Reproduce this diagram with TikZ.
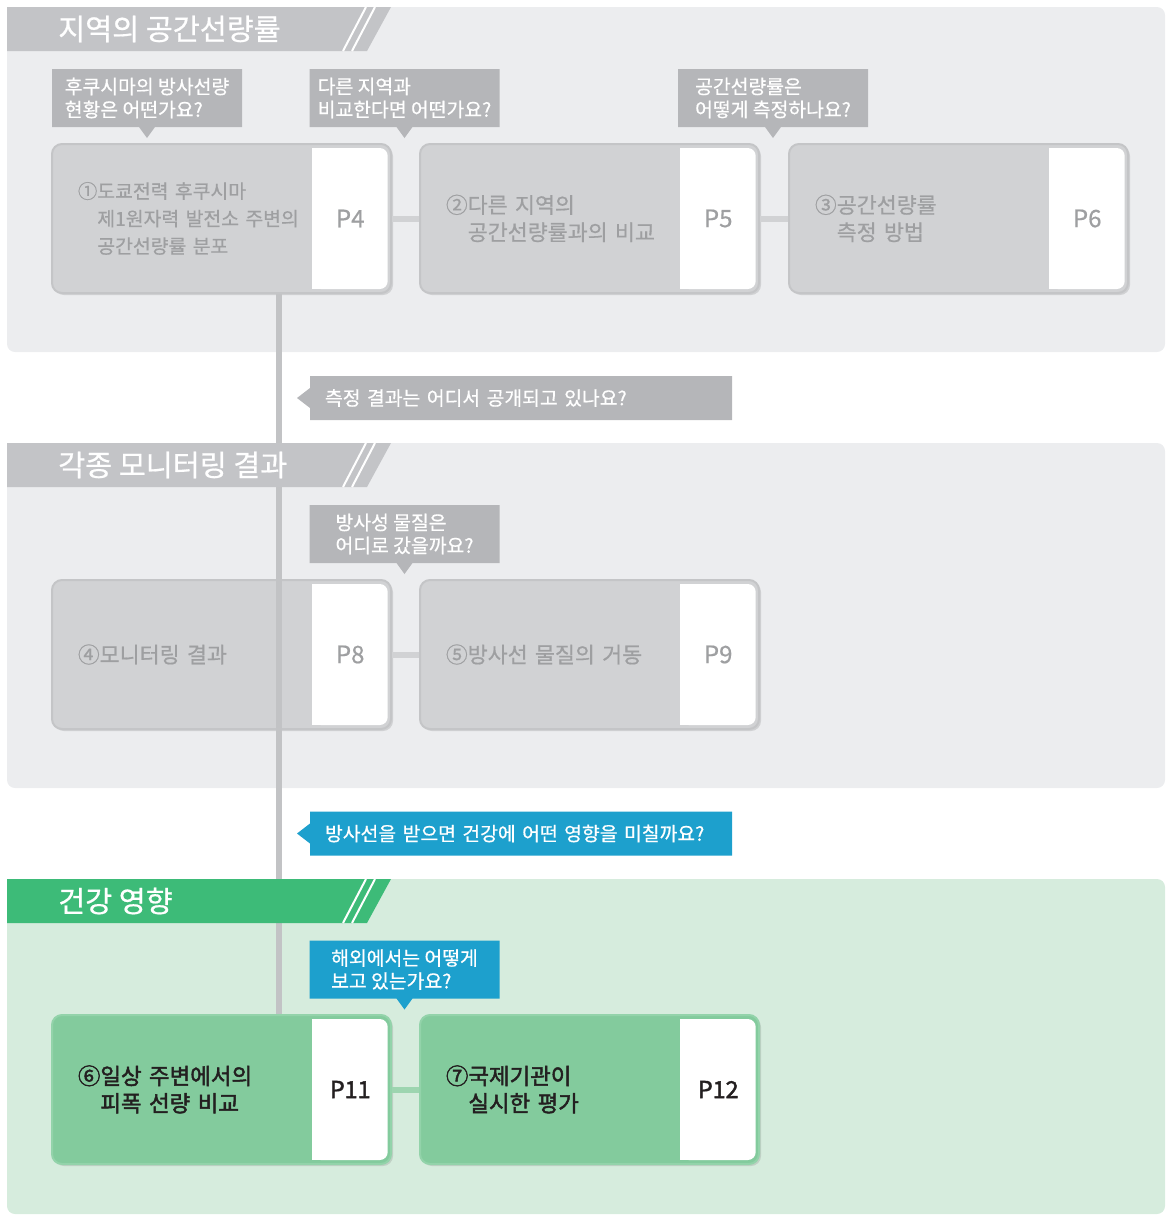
\documentclass[tikz,border=0pt]{standalone}
\usepackage{fontspec}
\setmainfont{Noto Sans CJK KR}
\newfontfamily\krmed{Noto Sans CJK KR}[FakeBold=0.6]
\newfontfamily\krsemi{Noto Sans CJK KR}[FakeBold=2]
\usepackage{xcolor}
\usetikzlibrary{calc, shapes.callouts, shadows}

\definecolor{panelgrey}{HTML}{ECEDEF}
\definecolor{bannergrey}{HTML}{C3C4C7}
\definecolor{askgrey}{HTML}{B5B6B9}
\definecolor{cardgrey}{HTML}{D1D2D4}
\definecolor{edgegrey}{HTML}{C4C5C7}
\definecolor{textgrey}{HTML}{9E9FA1}
\definecolor{spinegrey}{HTML}{C2C3C5}
\definecolor{panelgreen}{HTML}{D6ECDD}
\definecolor{bannergreen}{HTML}{3DBB78}
\definecolor{cardgreen}{HTML}{83CB9D}
\definecolor{edgegreen}{HTML}{93D3AA}
\definecolor{linkgreen}{HTML}{9DD5B0}
\definecolor{askblue}{HTML}{1DA0CD}
\definecolor{inkdark}{HTML}{231F20}

\tikzset{
  card/.style={rounded corners=7.5pt, fill=cardgrey, draw=edgegrey, line width=1.5pt,
    minimum width=254.25pt, minimum height=111.75pt, text width=215.25pt, inner xsep=19.5pt,
    align=left, text=textgrey, font=\krmed\fontsize{16.3}{20.5}\selectfont,
    drop shadow={shadow xshift=1.5pt, shadow yshift=-1.5pt, opacity=0.25}},
  smallcard/.style={card, font=\krmed\fontsize{14.5}{20.6}\selectfont},
  greencard/.style={card, fill=cardgreen, draw=edgegreen, text=inkdark, font=\krsemi\fontsize{16.8}{20.5}\selectfont},
  page/.style={rounded corners=6pt, fill=white, minimum width=56.25pt, minimum height=105.75pt,
    text=textgrey, font=\krmed\fontsize{18}{20}\selectfont},
  greenpage/.style={page, text=inkdark, font=\krsemi\fontsize{17.5}{20}\selectfont},
  link/.style={line width=4.5pt, draw=cardgrey},
  greenlink/.style={link, draw=linkgreen},
  spine/.style={line width=4.5pt, draw=spinegrey},
  slash/.style={draw=white, line width=1.5pt},
  headtext/.style={text=white, font=\krmed\fontsize{22}{26}\selectfont, inner sep=0pt},
  ask/.style={rectangle callout, fill=askgrey, text=white, align=left, inner sep=0pt,
    font=\krmed\fontsize{14.5}{17.25}\selectfont},
  askdown/.style={ask, minimum width=142.5pt, minimum height=43.5pt, callout pointer width=12pt,
    callout relative pointer={(0pt,-8.25pt)}},
  askleft/.style={ask, minimum width=316.5pt, minimum height=33pt, text width=294pt, callout pointer width=15pt,
    callout relative pointer={(-9.75pt,0pt)}}
}

\begin{document}
\begin{tikzpicture}[x=0.75pt, y=-0.75pt]
  \useasboundingbox (0,0) rectangle (1166,1215);

  % panels
  \fill[panelgrey, rounded corners=6pt] (7,7) rectangle (1165,352);
  \fill[panelgrey, rounded corners=6pt] (7,443) rectangle (1165,788);
  \fill[panelgreen, rounded corners=6pt] (7,879) rectangle (1165,1214);

  % cards
  \node[smallcard, anchor=north west] (c1) at (51,143) {①도쿄전력 후쿠시마\\\phantom{①}제1원자력 발전소 주변의\\\phantom{①}공간선량률 분포};
  \node[card, anchor=north west] (c2) at (419,143) {②다른 지역의\\\phantom{②}공간선량률과의 비교};
  \node[card, anchor=north west] (c3) at (788,143) {③공간선량률\\\phantom{③}측정 방법};
  \node[card, anchor=north west] (c4) at (51,579) {④모니터링 결과};
  \node[card, anchor=north west] (c5) at (419,579) {⑤방사선 물질의 거동};
  \node[greencard, anchor=north west] (c6) at (51,1014) {⑥일상 주변에서의\\\phantom{⑥}피폭 선량 비교};
  \node[greencard, anchor=north west] (c7) at (419,1014) {⑦국제기관이\\\phantom{⑦}실시한 평가};

  % spine and links
  \draw[spine] ($(c1.south west)+(228,0)$) -- ($(c6.north west)+(228,0)$);
  \draw[link] (c1) -- (c2);
  \draw[link] (c2) -- (c3);
  \draw[link] (c4) -- (c5);
  \draw[greenlink] (c6) -- (c7);

  % page tabs
  \node[page, anchor=east] (p1) at ($(c1.east)+(-4,0)$) {P4};
  \fill[white] (p1.north west) rectangle ($(p1.south west)+(10,0)$);
  \node[page, anchor=east] (p2) at ($(c2.east)+(-4,0)$) {P5};
  \fill[white] (p2.north west) rectangle ($(p2.south west)+(10,0)$);
  \node[page, anchor=east] (p3) at ($(c3.east)+(-4,0)$) {P6};
  \fill[white] (p3.north west) rectangle ($(p3.south west)+(10,0)$);
  \node[page, anchor=east] (p4) at ($(c4.east)+(-4,0)$) {P8};
  \fill[white] (p4.north west) rectangle ($(p4.south west)+(10,0)$);
  \node[page, anchor=east] (p5) at ($(c5.east)+(-4,0)$) {P9};
  \fill[white] (p5.north west) rectangle ($(p5.south west)+(10,0)$);
  \node[greenpage, anchor=east] (p6) at ($(c6.east)+(-4,0)$) {P11};
  \fill[white] (p6.north west) rectangle ($(p6.south west)+(10,0)$);
  \node[greenpage, anchor=east] (p7) at ($(c7.east)+(-4,0)$) {P12};
  \fill[white] (p7.north west) rectangle ($(p7.south west)+(10,0)$);

  % banners
  \fill[bannergrey] (7,7) -- (391,7) -- (367,51) -- (7,51) -- cycle;
  \draw[slash] (366,7) -- (343,51) (375,7) -- (352,51);
  \node[headtext, anchor=west] (h1) at (58,29) {지역의 공간선량률};
  \fill[bannergrey] (7,443) -- (391,443) -- (367,487) -- (7,487) -- cycle;
  \draw[slash] (366,443) -- (343,487) (375,443) -- (352,487);
  \node[headtext, anchor=west] (h2) at (58,465) {각종 모니터링 결과};
  \fill[bannergreen] (7,879) -- (391,879) -- (367,923) -- (7,923) -- cycle;
  \draw[slash] (366,879) -- (343,923) (375,879) -- (352,923);
  \node[headtext, anchor=west] (h3) at (58,901) {건강 영향};

  % questions
  \node[askdown] (q1) at (147,98) {후쿠시마의 방사선량\\현황은 어떤가요?};
  \node[askdown] (q2) at (404.5,98) {다른 지역과\\비교한다면 어떤가요?};
  \node[askdown] (q3) at (773,98) {공간선량률은\\어떻게 측정하나요?};
  \node[askleft] (q4) at (521,398) {측정 결과는 어디서 공개되고 있나요?};
  \node[askdown] (q5) at (404.5,534) {방사성 물질은\\어디로 갔을까요?};
  \node[askleft, fill=askblue] (q6) at (521,833.5) {방사선을 받으면 건강에 어떤 영향을 미칠까요?};
  \node[askdown, fill=askblue] (q7) at (404.5,969.5) {해외에서는 어떻게\\보고 있는가요?};
\end{tikzpicture}
\end{document}
